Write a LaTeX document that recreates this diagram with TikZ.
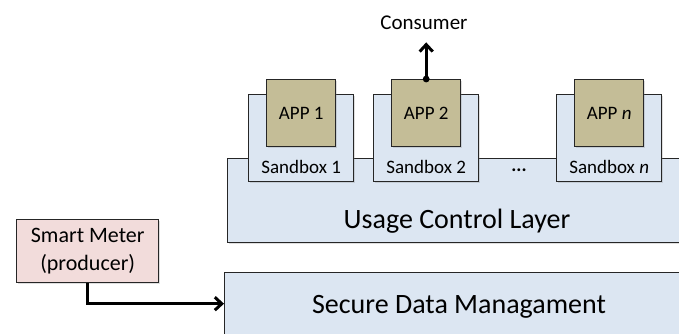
\documentclass[tikz,border=0pt]{standalone}
\usepackage{fontspec}
\setmainfont{Carlito}
\usetikzlibrary{positioning,arrows.meta,shadows}
\definecolor{layerblue}{HTML}{DCE6F2}
\definecolor{apptan}{HTML}{C4BD97}
\definecolor{meterpink}{HTML}{F2DCDB}

\begin{document}
\begin{tikzpicture}[x=1pt,y=-1pt]
	\tikzset{
		box/.style={draw=black!85,line width=1.4pt,inner sep=0pt,anchor=north west,
			drop shadow={shadow xshift=1.5pt,shadow yshift=-1.5pt,opacity=0.25}},
		layer/.style={box,fill=layerblue,minimum width=470pt},
		sandbox/.style={box,fill=layerblue,minimum width=105pt,minimum height=87pt},
		app/.style={box,fill=apptan,minimum width=69pt,minimum height=67pt,font=\fontsize{19}{23}\selectfont},
		lbl/.style={inner sep=2pt,anchor=base,font=\fontsize{19}{23}\selectfont},
		big/.style={lbl,font=\fontsize{28}{34}\selectfont},
		flow/.style={line width=3pt,-{Straight Barb[length=7pt,width=13pt]}}
	}
	\useasboundingbox (0,0) rectangle (679,333);
	% layers
	\node[layer,minimum height=84pt] (ucl) at (227,158) {};
	\node[layer,minimum height=62pt] (sdm) at (224,272) {};
	\node[big] (ucl-lbl) at (457,228) {Usage Control Layer};
	\node[big] (sdm-lbl) at (459,313) {Secure Data Managament};
	% sandboxes and apps
	\node[sandbox] (sb1) at (248,94) {};
	\node[sandbox] (sb2) at (373,94) {};
	\node[sandbox] (sbn) at (556,94) {};
	\node[lbl] (sb1-lbl) at ([yshift=9pt]sb1.south) {Sandbox 1};
	\node[lbl] (sb2-lbl) at ([yshift=9pt]sb2.south) {Sandbox 2};
	\node[lbl] (sbn-lbl) at ([yshift=9pt]sbn.south) {Sandbox \textit{n}};
	\node[lbl] (dots) at (519,171) {\textbf{...}};
	\node[app] (app1) at (266,79) {APP 1};
	\node[app] (app2) at (391,79) {APP 2};
	\node[app] (appn) at (574,79) {APP \textit{n}};
	% producer and consumer
	\node[box,fill=meterpink,minimum width=142pt,minimum height=63pt,align=center,
		font=\fontsize{22}{28}\selectfont] (meter) at (16,219) {Smart Meter\\(producer)};
	\node[lbl,font=\fontsize{21}{25}\selectfont] (cons) at (424,29) {Consumer};
	\draw[flow] (meter.south) |- (sdm.west);
	\draw[flow,shorten >=11pt] (app2.north) -- (app2.north |- cons.south);
	\fill (app2.north) circle (3.4pt);
\end{tikzpicture}
\end{document}
